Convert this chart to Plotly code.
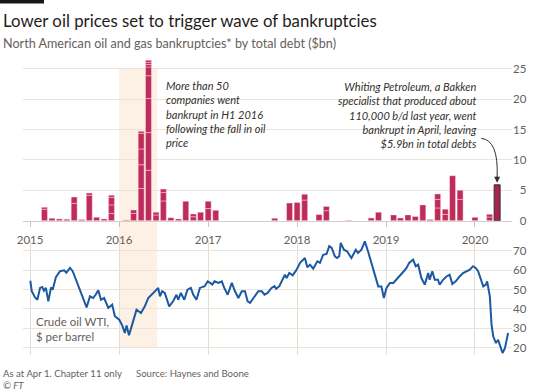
import plotly.graph_objects as go

# ---------------- data ----------------
# Monthly North American oil & gas bankruptcies, debt per filing ($bn), stacked bottom->top
bar_months = [
    "2015-03", "2015-04", "2015-05", "2015-06", "2015-07", "2015-08", "2015-09", "2015-10",
    "2015-11", "2015-12", "2016-02", "2016-03", "2016-04", "2016-05", "2016-06", "2016-07",
    "2016-08", "2016-09", "2016-10", "2016-11", "2016-12", "2017-01", "2017-02", "2017-10",
    "2017-12", "2018-01", "2018-02", "2018-04", "2018-05", "2018-08", "2018-11", "2018-12",
    "2019-02", "2019-03", "2019-04", "2019-05", "2019-06", "2019-07", "2019-08", "2019-09",
    "2019-10", "2019-11", "2020-01", "2020-03",
]
bar_segments = [
    [1.9, 0.3], [0.4], [0.3], [0.25], [2.85, 1.05], [0.2], [4.2, 0.35], [0.55],
    [0.3], [1.2, 1.4, 1.25, 0.35], [0.1], [1.2, 0.55], [5.3, 3.9, 2.6, 2.6, 0.3],
    [8.3, 6.2, 5.6, 3.75, 1.45, 0.4, 0.35, 0.35], [0.95, 0.45], [3.25, 1.4, 0.55],
    [0.5], [0.3], [3.2], [0.65, 0.45], [1.4], [2.0, 1.2], [1.7], [0.4],
    [2.9], [3.0], [3.4, 0.95], [1.0], [1.65, 0.7], [0.08], [0.45], [1.4],
    [0.95], [0.45], [0.95], [0.7], [2.6], [0.2], [2.1, 1.4, 0.9], [1.05, 0.85],
    [7.4], [3.5, 1.5], [0.55], [0.6, 0.45],
]
whiting_month = ["2020-04"]
whiting_debt = [5.9]

# WTI crude price, $ per barrel
wti_dates = [
    "2015-01-02", "2015-01-08", "2015-01-21", "2015-01-31", "2015-02-11", "2015-02-20", "2015-02-27",
    "2015-03-07", "2015-03-17", "2015-03-28", "2015-04-04", "2015-04-17", "2015-05-04", "2015-05-21",
    "2015-05-30", "2015-06-14", "2015-06-25", "2015-07-11", "2015-07-22", "2015-08-07", "2015-08-21",
    "2015-09-04", "2015-09-17", "2015-09-27", "2015-10-08", "2015-10-19", "2015-11-01", "2015-11-18",
    "2015-12-04", "2015-12-15", "2016-01-02", "2016-01-14", "2016-01-25", "2016-02-01", "2016-02-11",
    "2016-02-24", "2016-03-13", "2016-03-31", "2016-04-16", "2016-04-30", "2016-05-14", "2016-06-01",
    "2016-06-10", "2016-06-17", "2016-06-26", "2016-07-07", "2016-07-25", "2016-08-10", "2016-08-24",
    "2016-08-31", "2016-09-11", "2016-09-25", "2016-10-08", "2016-10-22", "2016-11-01", "2016-11-14",
    "2016-11-28", "2016-12-18", "2016-12-30", "2017-01-09", "2017-01-18", "2017-01-27", "2017-02-12",
    "2017-02-26", "2017-03-08", "2017-03-22", "2017-04-08", "2017-04-21", "2017-05-05", "2017-05-19",
    "2017-06-01", "2017-06-12", "2017-06-22", "2017-07-06", "2017-07-26", "2017-08-09", "2017-08-20",
    "2017-09-02", "2017-09-18", "2017-09-30", "2017-10-07", "2017-10-20", "2017-11-03", "2017-11-12",
    "2017-11-19", "2017-11-30", "2017-12-14", "2017-12-30", "2018-01-13", "2018-01-27", "2018-02-02",
    "2018-02-12", "2018-02-23", "2018-03-08", "2018-03-25", "2018-04-05", "2018-04-18", "2018-05-02",
    "2018-05-13", "2018-05-23", "2018-06-05", "2018-06-14", "2018-06-23", "2018-06-29", "2018-07-12",
    "2018-07-25", "2018-08-12", "2018-08-30", "2018-09-08", "2018-09-22", "2018-10-06", "2018-10-19",
    "2018-11-02", "2018-11-16", "2018-11-30", "2018-12-13", "2018-12-23", "2019-01-03", "2019-01-17",
    "2019-01-31", "2019-02-13", "2019-03-02", "2019-03-15", "2019-03-26", "2019-04-06", "2019-04-22",
    "2019-05-03", "2019-05-13", "2019-05-26", "2019-06-09", "2019-06-23", "2019-06-29", "2019-07-10",
    "2019-07-20", "2019-08-02", "2019-08-09", "2019-08-23", "2019-09-06", "2019-09-19", "2019-09-30",
    "2019-10-14", "2019-10-23", "2019-10-30", "2019-11-13", "2019-11-27", "2019-12-11", "2019-12-24",
    "2020-01-04", "2020-01-14", "2020-01-21", "2020-02-04", "2020-02-15", "2020-02-20", "2020-03-02",
    "2020-03-05", "2020-03-09", "2020-03-16", "2020-03-27", "2020-04-05", "2020-04-12", "2020-04-23",
    "2020-05-03", "2020-05-16",
]
wti_values = [
    54.5, 49.1, 46.0, 44.7, 50.8, 51.3, 49.4,
    50.8, 43.9, 51.1, 49.9, 56.4, 59.4, 59.9,
    58.7, 61.1, 59.4, 54.2, 50.8, 45.6, 40.8,
    46.5, 45.6, 47.3, 49.6, 44.7, 45.6, 40.5,
    42.2, 36.2, 34.4, 31.5, 27.6, 31.5, 26.4,
    31.9, 39.6, 37.9, 41.3, 45.6, 47.3, 49.9,
    50.8, 46.5, 49.1, 48.2, 41.3, 43.9, 47.3,
    44.7, 48.2, 44.7, 49.9, 50.8, 47.3, 44.7,
    50.8, 51.7, 54.2, 53.4, 52.5, 54.2, 53.4,
    54.2, 50.8, 47.3, 53.4, 49.1, 45.6, 49.1,
    49.1, 43.9, 43.1, 45.6, 49.1, 49.1, 47.3,
    48.2, 50.8, 51.7, 50.4, 51.7, 55.0, 57.6,
    55.9, 58.5, 57.3, 60.2, 63.7, 65.4, 66.2,
    61.4, 62.8, 60.7, 64.5, 63.7, 67.9, 68.3,
    72.3, 71.4, 67.1, 66.2, 67.1, 74.0, 70.5,
    69.7, 66.2, 70.5, 68.8, 70.5, 74.8, 69.7,
    63.7, 56.8, 51.6, 51.6, 45.6, 50.8, 53.4,
    53.4, 55.0, 57.6, 59.4, 61.1, 63.7, 65.4,
    62.0, 62.8, 55.9, 52.5, 58.5, 55.0, 59.4,
    55.0, 55.0, 52.5, 55.0, 56.7, 57.6, 52.8,
    54.2, 55.9, 56.7, 58.5, 59.4, 60.2, 62.0,
    61.1, 59.4, 56.8, 51.6, 52.5, 54.2, 46.5,
    40.5, 31.9, 25.9, 22.4, 24.1, 21.5, 17.3,
    19.8, 27.6,
]

debt_ticks = [0, 5, 10, 15, 20, 25]
debt_tick_labels = ["\u20070", "\u20075", "10", "15", "20", "25"]
price_ticks = [20, 30, 40, 50, 60, 70]
price_tick_labels = ["20", "30", "40", "50", "60", "70"]
year_ticks = ["2015-01-01", "2016-01-01", "2017-01-01", "2018-01-01", "2019-01-01", "2020-01-01"]
year_labels = ["2015", "2016", "2017", "2018", "2019", "2020"]
h1_2016 = ["2016-01-01", "2016-06-06"]

# ---------------- layout geometry (pixels) ----------------
FW, FH = 550, 392
L, R, T, B = 23, 38, 56, 37
PW, PH = FW - L - R, FH - T - B
BOTTOM = FH - B


def px(x):
    return (x - L) / PW


def py(y):
    return (BOTTOM - y) / PH


FONT = "Lato, 'Open Sans', sans-serif"
INK = "#33302e"
GREY = "#66605c"
GRID = "#ece3da"
BAR = "#bd2c5b"
BAR_EDGE = "rgba(255,225,235,0.75)"

fig = go.Figure()

# stacked bankruptcy bars (one trace per stack level)
n_levels = max(len(s) for s in bar_segments)
bar_w = 24.5 * 86400000
for k in range(n_levels):
    xs, ys, bs = [], [], []
    for m, segs in zip(bar_months, bar_segments):
        if len(segs) > k:
            xs.append(m)
            ys.append(segs[k])
            bs.append(sum(segs[:k]))
    fig.add_trace(go.Bar(
        x=xs, y=ys, base=bs, width=bar_w, xaxis="x", yaxis="y",
        marker=dict(color=BAR, line=dict(color=BAR_EDGE, width=0.6)),
        showlegend=False, hoverinfo="skip",
    ))

fig.add_trace(go.Bar(
    x=whiting_month, y=whiting_debt, width=bar_w, xaxis="x", yaxis="y",
    marker=dict(color="#a8234f", line=dict(color=INK, width=1)),
    showlegend=False, hoverinfo="skip",
))

# WTI line
fig.add_trace(go.Scatter(
    x=wti_dates, y=wti_values, mode="lines", xaxis="x2", yaxis="y2",
    line=dict(color="#1b5aa3", width=2), showlegend=False, hoverinfo="skip",
    cliponaxis=False,
))

xrange = ["2014-12-03", "2020-06-01"]
top_dom = [(BOTTOM - 220.7) / PH, 1.0]

fig.update_layout(
    width=FW, height=FH,
    margin=dict(l=L, r=R, t=T, b=B, pad=0, autoexpand=False),
    paper_bgcolor="white", plot_bgcolor="rgba(0,0,0,0)",
    barmode="overlay",
    font=dict(family=FONT, color=GREY, size=12),
    xaxis=dict(
        domain=[0, 1], anchor="y", type="date", range=xrange, automargin=False,
        tickvals=year_ticks, ticktext=year_labels, showticklabels=False,
        ticks="outside", ticklen=5, tickcolor="#cbc1b8", tickwidth=1,
        showline=True, linecolor="#d8cec5", linewidth=1,
        showgrid=False, zeroline=False,
    ),
    yaxis=dict(
        domain=top_dom, anchor="x", range=[0, 27.1], side="right", automargin=False,
        tickvals=debt_ticks, ticktext=debt_tick_labels,
        tickfont=dict(size=11.5, color=GREY, family=FONT),
        showgrid=True, gridcolor=GRID, gridwidth=1, zeroline=False,
        ticks="", showline=False,
    ),
    xaxis2=dict(
        domain=[0, 1], anchor="y2", type="date", range=xrange, side="top", automargin=False,
        tickvals=year_ticks, ticktext=year_labels, ticklabelstandoff=-7,
        tickfont=dict(size=11.5, color=GREY, family=FONT),
        showgrid=True, gridcolor="#e6dcd2", gridwidth=1.2, zeroline=False,
        ticks="", showline=False,
    ),
    yaxis2=dict(
        domain=[0, (BOTTOM - 240) / PH], anchor="x2", range=[16.24, 75.5], side="right",
        automargin=False,
        tickvals=price_ticks, ticktext=price_tick_labels,
        tickfont=dict(size=11.5, color=GREY, family=FONT),
        showgrid=True, gridcolor=GRID, gridwidth=1, zeroline=False,
        ticks="", showline=False,
    ),
)

shapes = [
    # H1 2016 shading
    dict(type="rect", xref="x", yref="paper", x0=h1_2016[0], x1=h1_2016[1],
         y0=py(348), y1=py(68), fillcolor="#fdf0e4", line=dict(width=0), layer="below"),
    # white box behind the WTI label
    dict(type="rect", xref="paper", yref="paper", x0=px(22.5), x1=px(110), y0=py(345), y1=py(314),
         fillcolor="white", line=dict(width=0), layer="between"),
    # FT black rule top-left
    dict(type="rect", xref="paper", yref="paper", x0=px(0), x1=px(44), y0=py(3.5), y1=py(0),
         fillcolor="#1a1817", line=dict(width=0)),
    # curved arrow to Whiting bar (pixel offsets anchored on the bar top)
    dict(type="path", xref="x", yref="y", xsizemode="pixel", ysizemode="pixel",
         xanchor=whiting_month[0], yanchor=whiting_debt[0],
         path="M -16,46.5 Q 1.5,44.8 0,8", line=dict(color=INK, width=1)),
]
fig.update_layout(shapes=shapes)

ann = []


def text(x, y, s, size, color=GREY, xanchor="left", yanchor="middle", align="left", italic=False, **kw):
    ann.append(dict(
        x=px(x), y=py(y), xref="paper", yref="paper", text=s, showarrow=False,
        xanchor=xanchor, yanchor=yanchor, align=align,
        font=dict(family=FONT, size=size, color=color, style="italic" if italic else "normal"),
        **kw,
    ))


text(1, 20, "Lower oil prices set to trigger wave of bankruptcies", 16.8, color="#1f1c1b")
text(1, 43, "North American oil and gas bankruptcies* by total debt ($bn)", 12.6, color=GREY)
text(163.5, 114.4,
     "More than 50<br>companies went<br>bankrupt in H1 2016<br>following the fall in oil<br>price",
     11, color=INK, italic=True)
text(478.5, 115.3,
     "Whiting Petroleum, a Bakken<br>specialist that produced about<br>110,000 b/d last year, went"
     "<br>bankrupt in April, leaving<br>$5.9bn in total debts",
     11, color=INK, xanchor="right", align="right", italic=True)
text(33.5, 328.7, "Crude oil WTI,<br>$ per barrel", 11.5, color=GREY)
text(1, 373, "As at Apr 1. Chapter 11 only", 9.6, color=GREY)
text(134, 373, "Source: Haynes and Boone", 9.6, color=GREY)
text(1, 385, "© FT", 9.6, color=GREY, italic=True)

# arrow head onto the Whiting bar
ann.append(dict(
    x=whiting_month[0], y=whiting_debt[0], xref="x", yref="y", text="", showarrow=True,
    ax=0, ay=-10, arrowhead=2, arrowsize=1.2, arrowwidth=1, arrowcolor=INK, standoff=2,
))
fig.update_layout(annotations=ann)

fig.write_html(
    "out.html",
    config={"displayModeBar": False},
    post_script="document.body.style.margin='0';document.body.style.padding='0';",
)
